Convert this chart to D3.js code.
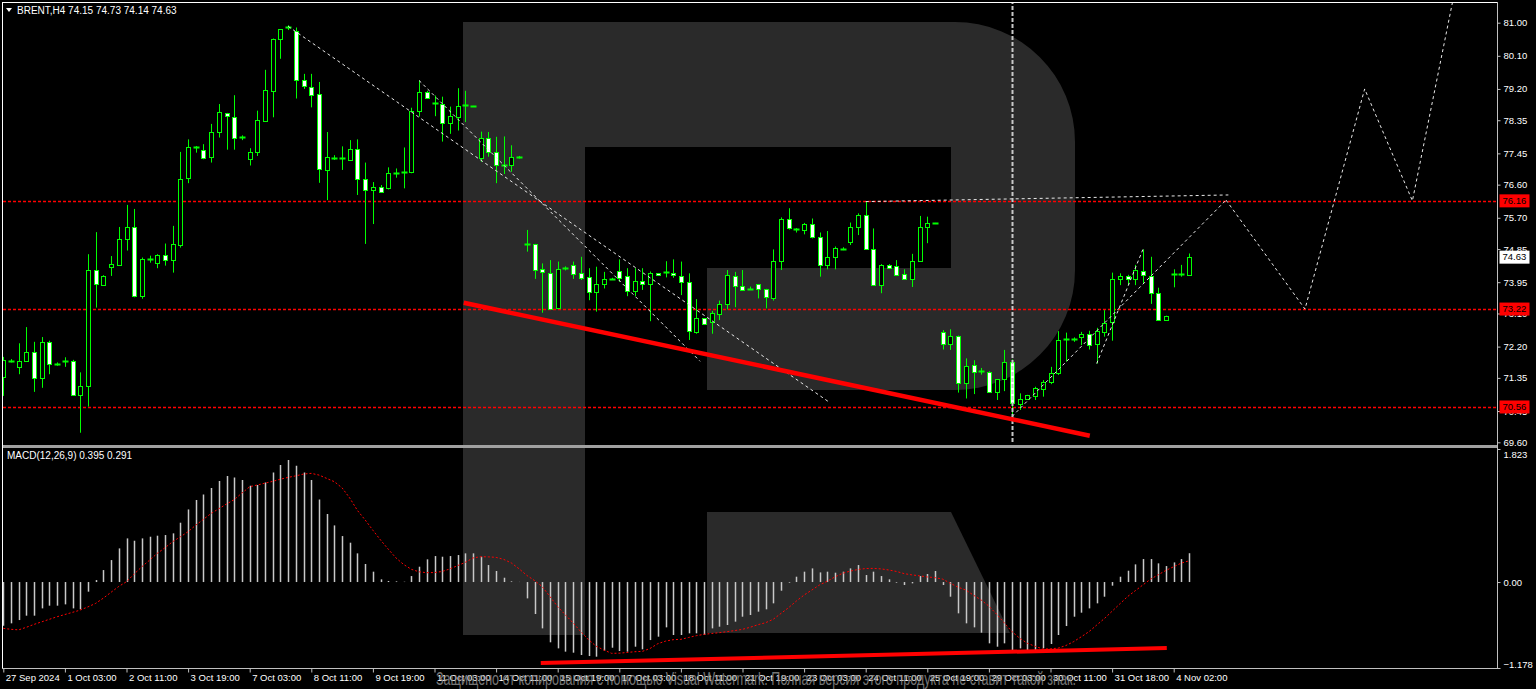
<!DOCTYPE html>
<html><head><meta charset="utf-8">
<script src="https://cdn.jsdelivr.net/npm/d3@7"></script>
<style>
html,body{margin:0;padding:0;background:#000;overflow:hidden}
svg{display:block}
text{font-family:"Liberation Sans",Arial,sans-serif}
</style></head><body>
<svg id="c" width="1536" height="689"></svg>
<script>
// ---------- DATA ----------
const symbolTitle = "BRENT,H4  74.15 74.73 74.14 74.63";
const macdTitle = "MACD(12,26,9) 0.395 0.291";
const opens = [71.38,71.81,71.64,71.80,72.04,71.35,72.32,71.72,71.81,71.80,70.88,71.12,74.27,73.89,74.37,74.42,75.11,75.44,73.56,74.57,74.46,74.68,74.56,74.97,76.76,77.60,77.55,77.34,78.04,78.54,78.45,77.88,77.29,77.47,78.34,79.17,80.55,80.87,80.77,
79.43,79.26,79.05,76.99,77.33,77.34,77.26,77.56,76.74,76.45,76.54,76.50,76.90,76.95,76.95,78.61,79.13,78.81,78.79,78.27,78.46,78.75,78.73,77.34,77.86,77.48,77.13,77.11,77.34,74.98,74.98,74.30,74.21,73.27,74.32,74.43,74.21,74.08,73.67,
73.89,74.04,74.26,74.12,73.71,73.97,73.89,74.19,74.21,74.19,74.13,73.96,72.60,72.97,72.85,73.08,73.36,74.13,73.86,73.76,73.89,73.76,73.53,74.53,75.66,75.41,75.35,75.52,75.17,74.42,74.63,74.86,75.04,75.44,75.77,74.84,73.87,74.42,74.39,
74.16,74.03,74.53,75.46,75.55,72.59,72.27,72.49,71.22,71.70,71.53,71.52,70.97,71.31,71.77,70.63,70.77,70.86,71.06,71.22,71.47,72.39,72.39,72.45,72.53,72.26,72.60,72.87,74.03,74.12,74.03,74.26,74.12,73.66,72.92,74.16,74.17,74.15];
const highs = [71.92,71.86,72.29,72.73,72.33,72.46,72.36,71.77,71.91,71.84,71.50,74.71,75.31,74.14,74.66,75.45,76.05,75.94,74.62,74.67,74.71,75.00,75.48,77.49,77.83,77.65,77.70,78.25,78.79,78.55,79.03,77.94,77.59,78.61,79.72,80.57,80.82,80.93,80.87,
79.61,79.61,79.39,78.03,77.40,77.64,77.81,77.83,77.20,76.67,76.59,77.07,77.04,77.61,78.69,79.43,79.15,79.02,78.99,78.72,79.22,79.15,78.74,78.04,78.03,77.90,77.91,77.67,77.38,75.37,74.99,74.46,74.55,74.51,74.38,74.51,74.64,74.33,74.37,
74.23,74.07,74.57,74.33,74.33,74.33,74.24,74.20,74.52,74.57,74.51,74.19,73.49,72.97,73.17,73.45,74.28,74.23,74.28,73.83,73.89,73.77,74.84,75.71,75.96,75.42,75.56,75.68,75.30,75.34,74.92,74.90,75.57,75.82,76.14,75.41,74.44,74.44,74.55,
74.30,74.72,75.75,75.73,75.56,72.65,72.67,72.50,71.88,71.83,71.62,71.53,71.32,72.11,71.85,70.93,70.89,71.11,71.29,71.65,72.62,72.58,72.45,72.60,72.63,72.71,73.19,74.21,74.19,74.15,74.42,74.84,74.64,73.80,73.04,74.30,74.42,74.73];
const lows = [70.86,71.77,71.45,71.80,70.97,71.08,71.45,71.68,71.65,70.86,69.86,70.57,73.26,73.88,74.12,74.41,74.81,73.54,73.50,74.48,74.33,74.40,74.21,74.89,76.64,77.47,77.29,77.20,77.88,77.55,77.55,77.81,77.12,77.38,78.34,78.43,80.02,80.80,78.94,
79.20,78.70,76.65,76.18,77.27,77.00,77.25,76.32,74.99,75.53,76.39,76.47,76.79,76.50,76.91,78.45,78.95,78.46,77.77,77.98,78.07,78.30,78.71,77.22,77.36,76.64,76.89,76.95,77.31,74.78,74.04,73.12,73.21,73.24,74.27,74.04,74.01,73.46,73.15,
73.78,74.02,73.96,73.57,73.57,73.74,72.89,74.12,74.08,74.07,73.60,72.38,72.55,72.79,72.55,72.92,73.21,73.27,73.73,73.74,73.51,73.24,73.45,74.28,75.38,75.30,75.25,75.14,74.10,74.30,74.30,74.82,74.96,75.23,74.83,73.85,73.65,74.33,74.12,
74.01,73.82,74.50,75.01,75.53,72.12,72.11,70.95,70.79,70.91,71.44,70.96,70.75,70.99,70.28,70.48,70.76,70.75,70.84,71.18,71.43,71.79,72.33,72.24,72.12,71.74,72.47,72.36,73.87,73.87,73.87,73.92,73.36,72.90,72.91,73.81,74.10,74.14];
const closes = [71.83,71.83,71.81,72.04,71.33,72.32,71.72,71.73,71.83,70.88,71.12,74.27,73.89,74.13,74.45,75.12,75.44,73.56,74.57,74.58,74.68,74.55,75.00,76.76,77.61,77.62,77.34,78.02,78.58,78.45,77.87,77.89,77.48,78.35,79.18,80.57,80.82,80.88,79.43,
79.26,79.05,77.02,77.34,77.34,77.29,77.56,76.74,76.44,76.54,76.41,76.91,76.92,76.96,78.60,79.13,78.97,78.82,78.27,78.46,78.75,78.76,78.72,77.88,77.48,77.13,77.14,77.34,77.35,74.99,74.28,74.21,73.24,74.32,74.33,74.18,74.07,73.67,73.89,
74.03,74.05,74.08,73.71,73.97,73.89,74.19,74.13,74.22,74.13,73.96,72.62,72.97,72.80,73.10,73.35,74.14,73.87,73.74,73.75,73.76,73.53,74.53,75.66,75.41,75.40,75.52,75.17,74.42,74.63,74.87,74.85,75.44,75.77,74.84,73.87,74.41,74.35,74.14,
74.03,74.53,75.46,75.57,75.54,72.27,72.49,71.22,71.67,71.51,71.52,70.97,71.31,71.77,70.66,70.77,70.88,71.08,71.24,71.47,72.38,72.40,72.40,72.54,72.24,72.62,72.85,74.03,74.12,74.03,74.28,74.15,73.66,72.92,73.03,74.17,74.16,74.63];

const macdMain = [-0.60,-0.566,-0.521,-0.461,-0.461,-0.361,-0.324,-0.324,-0.306,-0.361,-0.374,-0.132,0.027,0.164,0.301,0.461,0.598,0.566,0.598,0.621,0.635,0.644,0.667,0.813,0.995,1.123,1.201,1.288,1.384,1.452,1.434,1.397,1.320,1.329,1.365,1.502,1.603,1.671,1.594,
1.502,1.397,1.132,0.932,0.776,0.630,0.539,0.393,0.247,0.142,0.037,0.014,0.009,0.004,0.082,0.210,0.311,0.356,0.347,0.356,0.370,0.393,0.393,0.347,0.233,0.151,0.059,0.009,0.002,-0.224,-0.438,-0.635,-0.826,-0.909,-0.954,-0.968,-1.000,-1.014,-1.023,
-0.941,-0.900,-0.945,-0.954,-0.886,-0.922,-0.795,-0.749,-0.621,-0.726,-0.726,-0.703,-0.703,-0.726,-0.635,-0.612,-0.589,-0.543,-0.475,-0.452,-0.406,-0.374,-0.292,-0.119,-0.009,0.073,0.142,0.187,0.132,0.142,0.128,0.142,0.187,0.233,0.096,0.142,0.082,0.037,-0.009,
-0.041,-0.018,0.082,0.110,0.151,-0.041,-0.201,-0.429,-0.566,-0.621,-0.694,-0.840,-0.886,-0.840,-0.941,-0.909,-0.941,-0.932,-0.909,-0.849,-0.726,-0.603,-0.475,-0.420,-0.361,-0.292,-0.201,-0.050,0.073,0.155,0.242,0.315,0.315,0.256,0.219,0.269,0.315,0.395];
const macdSignal = [-0.635,-0.648,-0.655,-0.62,-0.58,-0.545,-0.51,-0.475,-0.445,-0.415,-0.384,-0.34,-0.292,-0.22,-0.14,-0.06,0.005,0.11,0.21,0.30,0.393,0.47,0.553,0.62,0.69,0.78,0.86,0.941,1.005,1.07,1.13,1.22,1.306,1.33,1.355,1.38,1.41,1.434,1.455,
1.48,1.489,1.466,1.42,1.375,1.29,1.15,0.98,0.85,0.71,0.575,0.45,0.33,0.24,0.174,0.14,0.128,0.13,0.145,0.18,0.225,0.27,0.33,0.347,0.345,0.338,0.31,0.26,0.18,0.09,0.02,-0.064,-0.2,-0.338,-0.45,-0.56,-0.68,-0.79,-0.88,
-0.932,-0.977,-0.975,-0.965,-0.955,-0.95,-0.91,-0.845,-0.81,-0.79,-0.785,-0.76,-0.735,-0.717,-0.705,-0.694,-0.68,-0.665,-0.648,-0.62,-0.585,-0.557,-0.51,-0.43,-0.35,-0.26,-0.178,-0.11,-0.04,0.01,0.07,0.12,0.15,0.172,0.185,0.187,0.18,0.165,0.145,
0.115,0.098,0.085,0.07,0.06,0.04,-0.018,-0.07,-0.11,-0.18,-0.247,-0.33,-0.44,-0.56,-0.68,-0.77,-0.84,-0.88,-0.918,-0.915,-0.905,-0.87,-0.817,-0.75,-0.68,-0.59,-0.5,-0.40,-0.30,-0.2,-0.12,-0.04,0.04,0.10,0.16,0.21,0.26,0.291];

const priceTicks = [81.00,80.10,79.20,78.35,77.45,76.60,75.70,74.85,73.95,73.10,72.20,71.35,70.45,69.60];
const macdTicks = [1.823,0.00,-1.178];
const timeLabels = ["27 Sep 2024","1 Oct 03:00","2 Oct 11:00","3 Oct 19:00","7 Oct 03:00","8 Oct 11:00","9 Oct 19:00","11 Oct 03:00","14 Oct 11:00","15 Oct 19:00","17 Oct 03:00","18 Oct 11:00","21 Oct 19:00","23 Oct 03:00","24 Oct 11:00","25 Oct 19:00","29 Oct 03:00","30 Oct 11:00","31 Oct 18:00","4 Nov 02:00"];
const timeLabelBars = [0,8,16,24,32,40,48,56,64,72,80,88,96,104,112,120,128,136,144,152];
const levelLines = [76.16,73.22,70.56];
const lastPrice = 74.63;

// drawn objects: [bar index, price]
const channelLine1 = [[37,80.9],[107.4,70.67]];
const channelLine2 = [[54,79.43],[90.5,71.8]];
const resistanceLine = [[112,76.14],[159.1,76.32]];
const riseLine1 = [[131,70.3],[158.8,76.18]];
const riseLine2 = [[142,71.74],[148,74.84]];
const forecastPath = [[158.8,76.18],[169.05,73.22],[176.8,79.2],[183,76.16],[188.2,81.55]];
const supportTrend = [[59.8,73.39],[141.1,69.78]];
const macdTrend = [[69.8,-1.11],[151.1,-0.904]];
const markerBar = 131;
const watermarkText = "Защищено от копирования с помощью Visual Watermark. Полная версия этого продукта не ставит такой знак.";

// ---------- SCALES ----------
const svg = d3.select("#c");
const x = d3.scaleLinear().domain([0,154]).range([3.3,1189.1]);
const y = d3.scaleLinear().domain([69.6,81.0]).range([442.3,22.7]);
const ym = d3.scaleLinear().domain([-1.178,1.823]).range([668,449]);
const AX = 1497.5;   // right axis line
const GREEN = "#00ff00";

svg.append("rect").attr("width",1536).attr("height",689).attr("fill","#000");

const defs = svg.append("defs");
defs.append("clipPath").attr("id","cm").append("rect").attr("x",3).attr("y",3).attr("width",AX-3).attr("height",441);
defs.append("clipPath").attr("id","cd").append("rect").attr("x",3).attr("y",449).attr("width",AX-3).attr("height",219);

// ---------- LOGO (background watermark) ----------
const logo = svg.append("g").attr("fill","#2a2a2a");
logo.append("path").attr("fill-rule","evenodd").attr("d",
  "M463,22 H955 A120,120 0 0 1 1075,142 V270 A120,120 0 0 1 955,390 H707 V268 H951 V147 H585 V635 H463 Z");
logo.append("path").attr("d","M707,512 H951 L1010,633 H707 Z");

// ---------- MAIN PANEL ----------
const main = svg.append("g").attr("clip-path","url(#cm)");
main.selectAll("line.lvl").data(levelLines).join("line").attr("class","lvl")
  .attr("x1",3).attr("x2",AX).attr("y1",d=>Math.round(y(d))+0.5).attr("y2",d=>Math.round(y(d))+0.5)
  .attr("stroke","#ff0000").attr("stroke-width",1.4).attr("stroke-dasharray","3,2");

const idx = d3.range(opens.length);
const cg = main.append("g");
idx.forEach(i=>{
  const cx = Math.round(x(i))+0.5;
  cg.append("line").attr("x1",cx).attr("x2",cx).attr("y1",y(highs[i])).attr("y2",y(lows[i]))
    .attr("stroke",GREEN).attr("stroke-width",1);
  const top = y(Math.max(opens[i],closes[i])), bot = y(Math.min(opens[i],closes[i]));
  if (bot-top < 2) {
    const yy = Math.round((top+bot)/2)+0.5;
    cg.append("line").attr("x1",cx-3).attr("x2",cx+3).attr("y1",yy).attr("y2",yy).attr("stroke",GREEN).attr("stroke-width",2);
  } else {
    cg.append("rect").attr("x",cx-2).attr("width",4).attr("y",Math.round(top)+0.5).attr("height",Math.round(bot-top))
      .attr("fill",closes[i]>=opens[i]?"#000":"#fff").attr("stroke",GREEN).attr("stroke-width",1);
  }
});

const ln = d3.line().x(d=>x(d[0])).y(d=>y(d[1]));
[channelLine1,channelLine2,resistanceLine,riseLine1,riseLine2,forecastPath].forEach(p=>{
  main.append("path").attr("d",ln(p)).attr("fill","none").attr("stroke","#e8e8e8")
    .attr("stroke-width",1).attr("stroke-dasharray","3,3");
});
main.append("line").attr("x1",Math.round(x(markerBar))+0.5).attr("x2",Math.round(x(markerBar))+0.5)
  .attr("y1",0).attr("y2",446).attr("stroke","#c8c8c8").attr("stroke-width",2).attr("stroke-dasharray","4,2");
main.append("path").attr("d",ln(supportTrend)).attr("fill","none").attr("stroke","#ff0000").attr("stroke-width",4.5);

// ---------- MACD PANEL ----------
const sub = svg.append("g").attr("clip-path","url(#cd)");
sub.selectAll("line.h").data(idx).join("line").attr("class","h")
  .attr("x1",i=>Math.round(x(i))+0.5).attr("x2",i=>Math.round(x(i))+0.5)
  .attr("y1",ym(0)).attr("y2",i=>ym(macdMain[i]))
  .attr("stroke","#c8c8c8").attr("stroke-width",1.5);
sub.append("path").attr("d",d3.line().x((d,i)=>x(i)).y(d=>ym(d))(macdSignal))
  .attr("fill","none").attr("stroke","#ff0000").attr("stroke-width",1).attr("stroke-dasharray","2,2");
sub.append("path").attr("d",d3.line().x(d=>x(d[0])).y(d=>ym(d[1]))(macdTrend))
  .attr("fill","none").attr("stroke","#ff0000").attr("stroke-width",4);

// ---------- FRAME ----------
svg.append("line").attr("x1",2.5).attr("x2",2.5).attr("y1",2).attr("y2",668).attr("stroke","#fff");
svg.append("line").attr("x1",2).attr("x2",AX).attr("y1",2.5).attr("y2",2.5).attr("stroke","#fff");
svg.append("rect").attr("x",3).attr("y",445).attr("width",AX-3).attr("height",3).attr("fill","#a0a0a0");
svg.append("line").attr("x1",AX).attr("x2",AX).attr("y1",2).attr("y2",669).attr("stroke","#c0c0c0");
svg.append("line").attr("x1",2).attr("x2",AX).attr("y1",668.5).attr("y2",668.5).attr("stroke","#c0c0c0");

// ---------- AXES ----------
const pa = svg.append("g").attr("transform",`translate(${AX},0)`)
  .call(d3.axisRight(y).tickValues(priceTicks).tickSize(3).tickPadding(3).tickFormat(d3.format(".2f")));
const ma = svg.append("g").attr("transform",`translate(${AX},0)`)
  .call(d3.axisRight(ym).tickValues(macdTicks).tickSize(3).tickPadding(3).tickFormat(d=>d===0?"0.00":d3.format(".3f")(d)));
ma.selectAll(".tick").filter(d=>d===1.823).select("text").attr("dy","0.9em");
ma.selectAll(".tick").filter(d=>d===-1.178).select("text").attr("dy","-0.1em");
const ta = svg.append("g").attr("transform","translate(0,668.5)")
  .call(d3.axisBottom(x).tickValues(timeLabelBars).tickSize(4).tickPadding(2).tickFormat((d,i)=>timeLabels[i]));
ta.selectAll(".tick text").attr("text-anchor","start").attr("dx",2);
[pa,ma,ta].forEach(a=>{
  a.select(".domain").remove();
  a.selectAll(".tick line").attr("stroke","#c0c0c0");
  a.selectAll(".tick text").attr("fill","#fff").attr("font-size","9.5px").attr("font-family","Liberation Sans, Arial, sans-serif");
});

// level price boxes
const lb = svg.append("g");
levelLines.forEach(v=>{
  lb.append("rect").attr("x",AX+2).attr("y",y(v)-6.5).attr("width",30).attr("height",13).attr("fill","#ff0000");
  lb.append("text").attr("x",AX+5).attr("y",y(v)).attr("dy","0.35em").attr("font-size","9.5px").attr("fill","#000").text(v.toFixed(2));
});
lb.append("rect").attr("x",AX+2).attr("y",y(lastPrice)-6.5).attr("width",30).attr("height",13).attr("fill","#fff");
lb.append("text").attr("x",AX+5).attr("y",y(lastPrice)).attr("dy","0.35em").attr("font-size","9.5px").attr("fill","#000").text(lastPrice.toFixed(2));

// titles
svg.append("path").attr("d","M6,8 L12,8 L9,12 Z").attr("fill","#fff");
svg.append("text").attr("x",17).attr("y",14).attr("font-size","10px").attr("fill","#fff").text(symbolTitle);
svg.append("text").attr("x",7).attr("y",459).attr("font-size","10px").attr("fill","#fff").text(macdTitle);

// watermark text
svg.append("text").attr("x",436).attr("y",685).attr("font-size","19px").attr("fill","#8a8a8a").attr("opacity",0.85)
  .attr("textLength",640).attr("lengthAdjust","spacingAndGlyphs").text(watermarkText);
</script>
</body></html>
